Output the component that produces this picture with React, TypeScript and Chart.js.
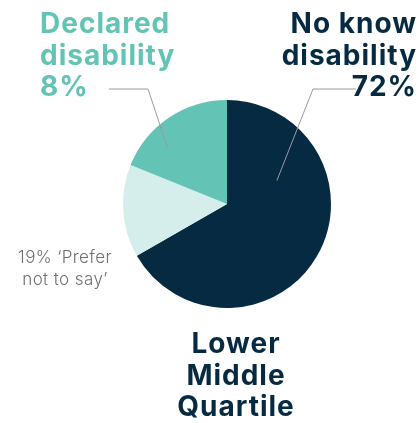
import React, { useEffect, useRef } from "react";
import { Chart, registerables } from "chart.js";

Chart.register(...registerables);

const categories = ["No known disability", "Prefer not to say", "Declared disability"];
const values = [66.7, 14.4, 18.9];
const sliceColors = ["#062a42", "#d5eeeb", "#63c4b6"];

const titleLines = ["Lower", "Middle", "Quartile"];
const declaredLines = ["Declared", "disability", "8%"];
const noKnownLines = ["No know", "disability", "72%"];
const preferLines = ["19% \u2018Prefer", "not to say\u2019"];

const BOLD = "700 28px Inter, 'DejaVu Sans', sans-serif";
const LIGHT = "300 17px Inter, 'DejaVu Sans', sans-serif";

const labelPlugin = {
  id: "customLabels",
  afterDatasetsDraw(chart: any) {
    const ctx = chart.ctx as any;
    const meta = chart.getDatasetMeta(0);
    const arcs = meta.data;
    if (!arcs.length) return;
    const a0 = arcs[0].getProps(["x", "y", "outerRadius"], true);
    const cx = a0.x;
    const cy = a0.y;
    const r = a0.outerRadius;

    const anchor = (i: number, f: number, rf: number) => {
      const p = arcs[i].getProps(["startAngle", "endAngle"], true);
      const ang = p.startAngle + f * (p.endAngle - p.startAngle);
      return { x: cx + Math.cos(ang) * r * rf, y: cy + Math.sin(ang) * r * rf };
    };

    ctx.save();
    ctx.strokeStyle = "#9b9b9b";
    ctx.lineWidth = 1;
    const pD = anchor(2, 0.31, 0.78);
    ctx.beginPath();
    ctx.moveTo(cx - 118, cy - 115);
    ctx.lineTo(cx - 79, cy - 115);
    ctx.lineTo(pD.x, pD.y);
    ctx.stroke();
    const pN = anchor(0, 0.27, 0.53);
    ctx.beginPath();
    ctx.moveTo(cx + 129, cy - 115);
    ctx.lineTo(cx + 86, cy - 115);
    ctx.lineTo(pN.x, pN.y);
    ctx.stroke();

    ctx.textBaseline = "alphabetic";
    ctx.font = BOLD;
    ctx.letterSpacing = "1px";
    ctx.fillStyle = sliceColors[2];
    ctx.textAlign = "left";
    declaredLines.forEach((t, k) => ctx.fillText(t, 40, 33 + k * 31.7));

    ctx.fillStyle = sliceColors[0];
    ctx.textAlign = "right";
    noKnownLines.forEach((t, k) => ctx.fillText(t, 417, 33 + k * 31.7));

    ctx.textAlign = "center";
    titleLines.forEach((t, k) => ctx.fillText(t, 236, 353 + k * 31.5));

    ctx.font = LIGHT;
    ctx.letterSpacing = "0.4px";
    ctx.fillStyle = "#6f6f6f";
    preferLines.forEach((t, k) => ctx.fillText(t, 65, 263 + k * 21.5));
    ctx.restore();
  },
};

export default function App() {
  const ref = useRef<HTMLCanvasElement | null>(null);
  useEffect(() => {
    document.body.style.margin = "0";
    if (!ref.current) return;
    const chart = new Chart(ref.current, {
      type: "pie",
      data: {
        labels: categories,
        datasets: [
          {
            data: values,
            backgroundColor: sliceColors,
            borderWidth: 0,
          },
        ],
      },
      options: {
        animation: false,
        responsive: true,
        maintainAspectRatio: false,
        layout: { padding: { left: 123, right: 88, top: 100, bottom: 115 } },
        plugins: {
          legend: { display: false },
          tooltip: { enabled: false },
          title: { display: false },
        },
      },
      plugins: [labelPlugin],
    });
    return () => chart.destroy();
  }, []);
  return (
    <div style={{ width: 419, height: 423, position: "relative", background: "#fff" }}>
      <canvas ref={ref} />
    </div>
  );
}
